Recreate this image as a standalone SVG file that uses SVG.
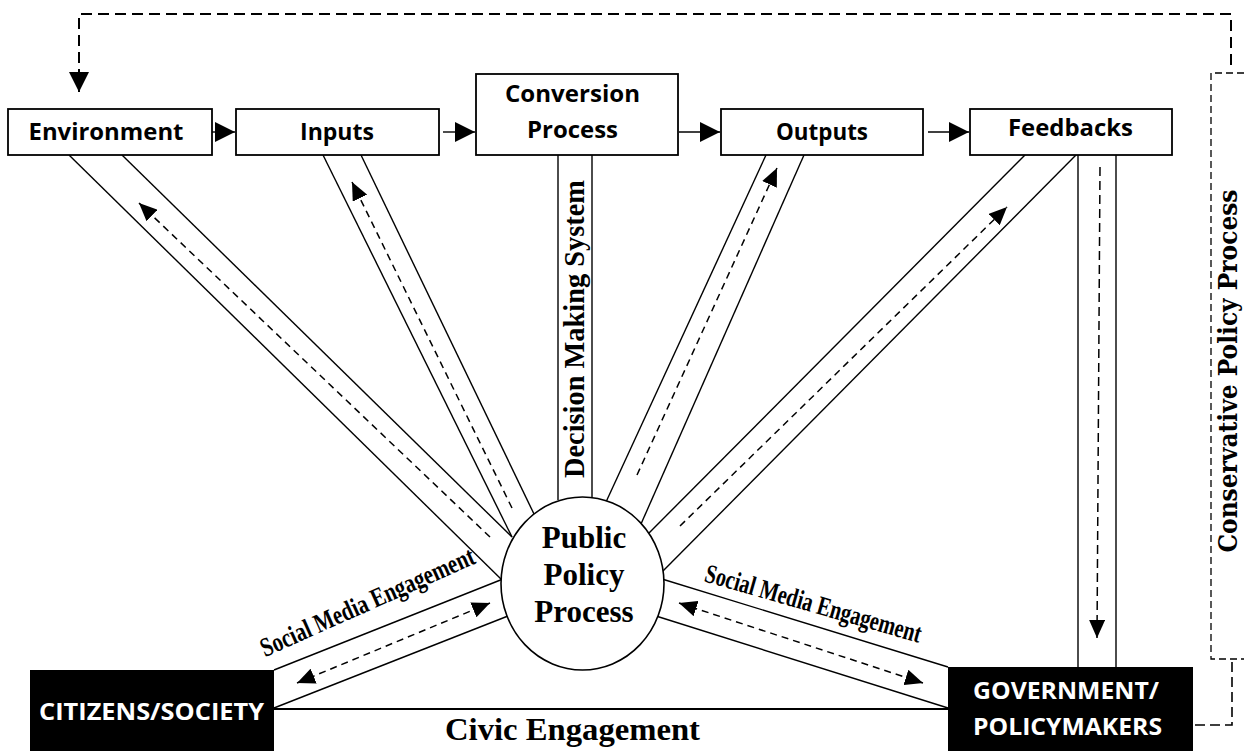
<svg xmlns="http://www.w3.org/2000/svg" width="1244" height="751" viewBox="0 0 1244 751">
<style>
.box{fill:#fff;stroke:#000;stroke-width:1.8}
.blk{fill:#000}
.ln{stroke:#000;stroke-width:1.4;fill:none}
.dash{stroke:#000;stroke-width:1.5;stroke-dasharray:7 5;fill:none}
.loop{stroke:#000;stroke-width:2;stroke-dasharray:11 6;fill:none}
.cbox{stroke:#000;stroke-width:1.3;stroke-dasharray:7 4;fill:none}
.lbl{font-family:"Open Sans","Liberation Sans",sans-serif;font-weight:bold;font-size:23px;text-anchor:middle;fill:#000}
.wl{fill:#fff}
.ser{font-family:"Liberation Serif","Times New Roman",serif;font-weight:bold;text-anchor:middle;fill:#000}
</style>
<defs>
<marker id="ah" viewBox="0 0 20 20" refX="20" refY="10" markerWidth="20" markerHeight="20" markerUnits="userSpaceOnUse" orient="auto"><path d="M0,0 L20,10 L0,20 z" fill="#000" stroke="none"/></marker>
<marker id="dh" viewBox="0 0 18 16" refX="18" refY="8" markerWidth="18" markerHeight="16" markerUnits="userSpaceOnUse" orient="auto-start-reverse"><path d="M0,0 L18,8 L0,16 z" fill="#000" stroke="none"/></marker>
</defs>

<g id="connectors">
  <line class="ln" x1="212" y1="132" x2="235" y2="132" marker-end="url(#ah)"/>
  <line class="ln" x1="443" y1="132" x2="475" y2="132" marker-end="url(#ah)"/>
  <line class="ln" x1="679" y1="132" x2="720" y2="132" marker-end="url(#ah)"/>
  <line class="ln" x1="928" y1="132" x2="969" y2="132" marker-end="url(#ah)"/>
  <path class="loop" d="M1231,65 V14 H79 V92" marker-end="url(#ah)"/>
  <path class="cbox" d="M1244,73 H1211 V659 H1244"/>
  <path class="loop" d="M1195,725 H1232 V659" style="stroke-width:1.6;stroke-dasharray:10 5"/>
  <line class="ln" x1="69" y1="155" x2="503" y2="581"/>
  <line class="ln" x1="122" y1="155" x2="512" y2="537"/>
  <line class="dash" x1="490" y1="537" x2="139" y2="203" marker-end="url(#dh)"/>
  <line class="ln" x1="323" y1="155" x2="512" y2="537"/>
  <line class="ln" x1="361" y1="155" x2="534" y2="514"/>
  <line class="dash" x1="512" y1="508" x2="352" y2="182" marker-end="url(#dh)"/>
  <line class="ln" x1="558" y1="155" x2="558" y2="500"/>
  <line class="ln" x1="592" y1="155" x2="592" y2="500"/>
  <line class="ln" x1="766" y1="155" x2="606" y2="502"/>
  <line class="ln" x1="804" y1="155" x2="641" y2="524"/>
  <line class="dash" x1="637" y1="475" x2="777" y2="168" marker-end="url(#dh)"/>
  <line class="ln" x1="1025" y1="155" x2="648" y2="534"/>
  <line class="ln" x1="1076" y1="155" x2="660" y2="574"/>
  <line class="dash" x1="680" y1="526" x2="1007" y2="207" marker-end="url(#dh)"/>
  <line class="ln" x1="1078" y1="155" x2="1078" y2="667"/>
  <line class="ln" x1="1116" y1="155" x2="1116" y2="667"/>
  <line class="dash" x1="1100" y1="167" x2="1097" y2="638" marker-end="url(#dh)" style="stroke-dasharray:9 5"/>
  <line class="ln" x1="274" y1="670" x2="503" y2="579"/>
  <line class="ln" x1="274" y1="708" x2="508" y2="616"/>
  <line class="dash" x1="297" y1="683" x2="490" y2="603" marker-start="url(#dh)" marker-end="url(#dh)"/>
  <line class="ln" x1="662" y1="579" x2="948" y2="667"/>
  <line class="ln" x1="656" y1="616" x2="948" y2="708"/>
  <line class="dash" x1="679" y1="603" x2="923" y2="683" marker-start="url(#dh)" marker-end="url(#dh)"/>
  <line class="ln" x1="274" y1="709" x2="948" y2="709" style="stroke-width:2"/>
</g>

<g id="labels">
  <text class="ser" font-size="29" transform="translate(584,329) rotate(-90)" textLength="298" lengthAdjust="spacingAndGlyphs">Decision Making System</text>
  <text class="ser" font-size="27" transform="translate(371,610) rotate(-24)" textLength="232" lengthAdjust="spacingAndGlyphs">Social Media Engagement</text>
  <text class="ser" font-size="27" transform="translate(811,612) rotate(16)" textLength="224" lengthAdjust="spacingAndGlyphs">Social Media Engagement</text>
  <text class="ser" font-size="32" x="572.5" y="740" textLength="255" lengthAdjust="spacingAndGlyphs">Civic Engagement</text>
  <text font-family="DejaVu Serif, Liberation Serif, serif" font-weight="bold" font-size="26" text-anchor="middle" transform="translate(1237,371) rotate(-90)" textLength="363" lengthAdjust="spacingAndGlyphs">Conservative Policy Process</text>
</g>

<g id="public-policy-process">
  <ellipse cx="582.5" cy="583.5" rx="81.5" ry="86.5" fill="#fff" stroke="#000" stroke-width="1.6"/>
  <text class="ser" font-size="31" x="584" y="548">Public</text>
  <text class="ser" font-size="31" x="584" y="585">Policy</text>
  <text class="ser" font-size="31" x="584" y="622">Process</text>
</g>

<g id="environment">
  <rect class="box" x="8" y="109" width="204" height="46"/>
  <text class="lbl" x="106" y="140" textLength="155" lengthAdjust="spacingAndGlyphs">Environment</text>
</g>
<g id="inputs">
  <rect class="box" x="236" y="109" width="203" height="46"/>
  <text class="lbl" x="337" y="140" textLength="74" lengthAdjust="spacingAndGlyphs">Inputs</text>
</g>
<g id="conversion-process">
  <rect class="box" x="476" y="74" width="202" height="81"/>
  <text class="lbl" x="572.5" y="102" textLength="135" lengthAdjust="spacingAndGlyphs">Conversion</text>
  <text class="lbl" x="572.5" y="138" textLength="91" lengthAdjust="spacingAndGlyphs">Process</text>
</g>
<g id="outputs">
  <rect class="box" x="721" y="109" width="202" height="46"/>
  <text class="lbl" x="822" y="140" textLength="92" lengthAdjust="spacingAndGlyphs">Outputs</text>
</g>
<g id="feedbacks">
  <rect class="box" x="970" y="109" width="202" height="46"/>
  <text class="lbl" x="1070.5" y="136" textLength="125" lengthAdjust="spacingAndGlyphs">Feedbacks</text>
</g>
<g id="citizens-society">
  <rect class="blk" x="30" y="670" width="244" height="81"/>
  <text class="lbl wl" x="151.5" y="720" textLength="225" lengthAdjust="spacingAndGlyphs">CITIZENS/SOCIETY</text>
</g>
<g id="government-policymakers">
  <rect class="blk" x="948" y="667" width="245" height="84"/>
  <text class="lbl wl" x="1066" y="699" textLength="186" lengthAdjust="spacingAndGlyphs">GOVERNMENT/</text>
  <text class="lbl wl" x="1067.5" y="735" textLength="189" lengthAdjust="spacingAndGlyphs">POLICYMAKERS</text>
</g>
</svg>
